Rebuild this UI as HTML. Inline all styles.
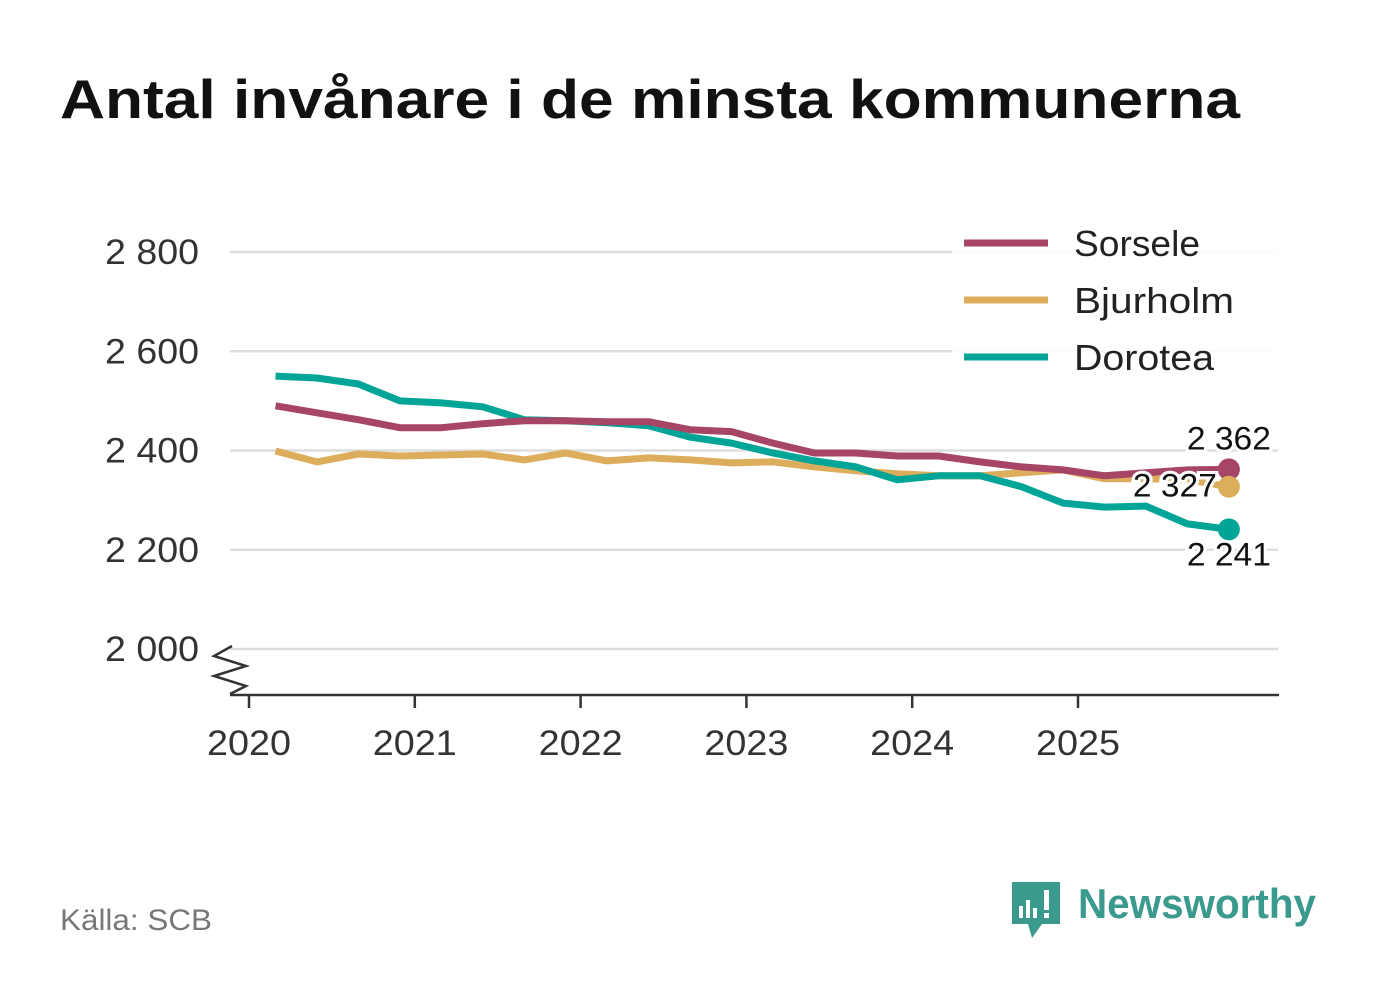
<!DOCTYPE html>
<html><head><meta charset="utf-8"><style>
body{margin:0;background:#fff;font-family:"Liberation Sans","DejaVu Sans",sans-serif}
</style></head><body>
<svg width="1382" height="999" xmlns="http://www.w3.org/2000/svg" font-family="Liberation Sans, DejaVu Sans, sans-serif">
<rect width="1382" height="999" fill="#fff"/>
<text x="60" y="118" font-size="55" font-weight="bold" fill="#111" textLength="1180" lengthAdjust="spacingAndGlyphs">Antal invånare i de minsta kommunerna</text>
<g id="grid"></g>
<g id="series"></g>
<g id="legend">
<rect x="952" y="222" width="330" height="165" fill="#fff" opacity="0.9"/>
<line x1="964" y1="243" x2="1048" y2="243" stroke="#a64565" stroke-width="7"/>
<text x="1074" y="256" font-size="36" fill="#222" textLength="126" lengthAdjust="spacingAndGlyphs">Sorsele</text>
<line x1="964" y1="300" x2="1048" y2="300" stroke="#dcae5c" stroke-width="7"/>
<text x="1074" y="313" font-size="36" fill="#222" textLength="160" lengthAdjust="spacingAndGlyphs">Bjurholm</text>
<line x1="964" y1="357" x2="1048" y2="357" stroke="#00a597" stroke-width="7"/>
<text x="1074" y="370" font-size="36" fill="#222" textLength="140" lengthAdjust="spacingAndGlyphs">Dorotea</text>
</g>
<text x="60" y="930" font-size="30" fill="#777" textLength="152" lengthAdjust="spacingAndGlyphs">Källa: SCB</text>
<g>
<path d="M1012 882 h48 v42 h-18 l-10 14 l-4 -14 h-16 z" fill="#3a9a8e"/>
<rect x="1019" y="906" width="4" height="12" fill="#fff"/><rect x="1026" y="900" width="4" height="18" fill="#fff"/><rect x="1033" y="908" width="4" height="10" fill="#fff"/><rect x="1044" y="890" width="5" height="20" fill="#fff"/><rect x="1044" y="913" width="5" height="5" fill="#fff"/>
<text x="1078" y="918" font-size="42" font-weight="bold" fill="#3a9a8e" textLength="238" lengthAdjust="spacingAndGlyphs">Newsworthy</text>
</g>
<script>
const yTicks=[2000,2200,2400,2600,2800];
const yTickLabels=["2 000","2 200","2 400","2 600","2 800"];
const xYears=[2020,2021,2022,2023,2024,2025];
const sorsele=[2490,2476,2462,2446,2446,2454,2460,2460,2458,2458,2442,2438,2415,2395,2395,2389,2389,2377,2367,2361,2349,2355,2361,2362];
const bjurholm=[2399,2377,2393,2389,2391,2393,2381,2395,2379,2385,2381,2375,2377,2367,2359,2353,2349,2349,2355,2361,2343,2343,2341,2327];
const dorotea=[2550,2546,2534,2500,2496,2488,2462,2460,2456,2450,2427,2415,2395,2379,2367,2341,2349,2349,2327,2294,2286,2288,2252,2241];
const endLabels=["2 362","2 327","2 241"];
const NS="http://www.w3.org/2000/svg";
function Y(v){return 649-(v-2000)*397/800;}
function X(t){return 249+(t-2020)*165.8;}
function tOf(i){return 2020.16+i*0.25;}
function mk(tag,attrs,parent){const e=document.createElementNS(NS,tag);for(const k in attrs)e.setAttribute(k,attrs[k]);parent.appendChild(e);return e;}
const grid=document.getElementById('grid');
yTicks.forEach((v,i)=>{
 const l=mk('line',{x1:230,x2:1278,y1:Y(v),y2:Y(v),stroke:'#ddd','stroke-width':2.5},grid);
 
 
 const t=mk('text',{x:199,y:Y(v)+12,'font-size':35,fill:'#333','text-anchor':'end',textLength:94,lengthAdjust:'spacingAndGlyphs'},grid);
 t.textContent=yTickLabels[i];
 
 
});
const ax=mk('line',{x1:230,x2:1279,y1:695,y2:695,stroke:'#333','stroke-width':2.5},grid);


const brk=mk('path',{d:'M232 646 L214 656 L246 666 L214 676 L246 686 L230 694',fill:'none',stroke:'#333','stroke-width':2.5},grid);


xYears.forEach(y=>{
 mk('line',{x1:X(y),x2:X(y),y1:695,y2:708,stroke:'#333','stroke-width':2.5},grid);
 const t=mk('text',{x:X(y),y:755,'font-size':35,fill:'#333','text-anchor':'middle',textLength:84,lengthAdjust:'spacingAndGlyphs'},grid);
 t.textContent=y;
 
 
});
const sg=document.getElementById('series');
function draw(vals,color,name){
 const d=vals.map((v,i)=>(i?'L':'M')+X(tOf(i)).toFixed(1)+' '+Y(v).toFixed(1)).join(' ');
 const p=mk('path',{d:d,fill:'none',stroke:color,'stroke-width':7,'stroke-linejoin':'round'},sg);
 
 
}
draw(bjurholm,'#dcae5c','bjurholm');
draw(dorotea,'#00a597','dorotea');
draw(sorsele,'#a64565','sorsele');
const ends=[[sorsele,'#a64565','sorsele',0,-20,'middle'],[bjurholm,'#dcae5c','bjurholm',-12,10,'end'],[dorotea,'#00a597','dorotea',0,36,'middle']];
ends.forEach((e,k)=>{
 const v=e[0][e[0].length-1];const x=X(tOf(e[0].length-1)),y=Y(v);
 const c=mk('circle',{cx:x,cy:y,r:11,fill:e[1]},sg);
 
 
 const t=mk('text',{x:x+e[3],y:y+e[4],'font-size':32,fill:'#111','text-anchor':e[5],stroke:'#fff','stroke-width':6,'paint-order':'stroke',textLength:84,lengthAdjust:'spacingAndGlyphs'},sg);
 t.textContent=endLabels[k];
 
 
});
</script>
</svg>
</body></html>
